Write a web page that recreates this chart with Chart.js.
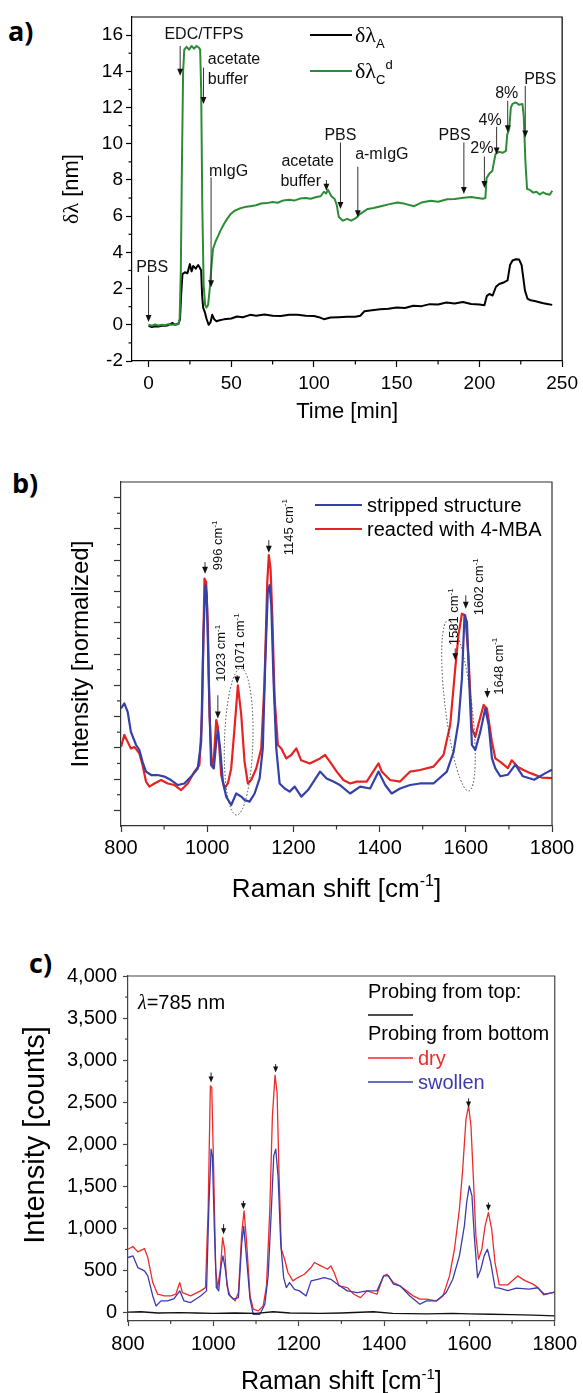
<!DOCTYPE html>
<html>
<head>
<meta charset="utf-8">
<script src="https://cdn.jsdelivr.net/npm/chart.js@4/dist/chart.umd.min.js"></script>
<style>
  body { margin: 0; background: #fff; width: 583px; height: 1393px; position: relative; overflow: hidden; }
  canvas { position: absolute; left: 0; }
  .tag { position: absolute; font: bold 27px "Open Sans", "Liberation Sans", sans-serif; color: #000; }
</style>
</head>
<body>
<div class="tag" style="left:8px;top:12px">a)</div>
<div class="tag" style="left:12px;top:464px">b)</div>
<div class="tag" style="left:29px;top:944px">c)</div>
<canvas id="chartA" width="583" height="430" style="top:0"></canvas>
<canvas id="chartB" width="583" height="476" style="top:430px"></canvas>
<canvas id="chartC" width="583" height="493" style="top:900px"></canvas>
<script>
const SANS = '"Liberation Sans", Arial, sans-serif'
const SERIF = '"Liberation Serif", "DejaVu Serif", serif'

// ---- a) wavelength shift vs time ----
const timeGreen = [0,2,4,6,8,10,12,14,16,18,18.8,19.5,20.2,20.9,21.6,23,24.5,26,27.5,29,30.5,31.2,31.8,32.5,33.3,34.2,35,36,37,38,39,40.5,42,43.5,45.5,47.5,49.5,52,55,58,61.5,65,68,71.5,75,78,81.5,85,88,91.5,95,98,101.5,104,106,107.3,108.5,110.5,112.5,113.8,115,117.5,120,122.5,125.5,127.5,130,132.5,136,140.5,145,150.5,155,160.5,165,170.5,175,180.5,185,190.5,195,199,202,203.6,204.3,206,207.8,208.8,209.8,212,214,216,216.8,218,219,220,222,224,226,226.8,227.8,228.8,230.5,232.5,234.5,236.5,238.5,240.5,242.5,244]
const dlC = [0,-0.05,0.02,-0.04,0,-0.02,0.03,0,0.02,0.03,0.3,3,9,14,15.2,15.35,15.2,15.4,15.25,15.4,15.3,15.2,13,6.5,2.2,1.1,0.95,1.1,2,3.2,4.2,4.6,4.9,5.2,5.55,5.85,6.1,6.3,6.42,6.5,6.55,6.6,6.7,6.72,6.78,6.74,6.87,6.9,6.86,6.97,7,6.96,7.06,7.1,7.35,7.25,7.45,7.1,6.95,6.6,5.95,5.75,5.85,5.75,5.9,6.1,6.25,6.4,6.45,6.55,6.65,6.75,6.68,6.55,6.75,6.85,6.8,6.93,6.95,7.02,7.06,7,6.96,7,8.1,8.35,8.5,9,9.45,9.55,9.5,9.6,10.5,10.8,12,12.2,12.28,12.15,12.2,11.5,9,7.5,7.45,7.3,7.35,7.2,7.32,7.22,7.18,7.4]
const timeBlack = [0,2,4,6,8,10,12,14.5,16,18,19,19.8,20.5,22,23.5,25,26,27,28.5,30,31,31.8,32.4,33,34,35,36.3,37.5,38.5,39.7,41,43,45.5,50,53.5,57,61.5,65,70,75,80,85,90,95,100,103,106,110,115,120,125,128,130.5,135,140,145,150,155,160,165,170,175,180,185,190,195,200,203,204.5,206,208,210,212,215,217,218.5,220,222,224,225.5,226.5,227.5,229,231,234,238,241,244]
const dlA = [-0.05,-0.12,-0.08,-0.1,-0.05,-0.06,-0.02,0.1,0,0.05,0.3,1.8,2.8,2.9,2.85,3.35,2.95,3.25,3.1,3.3,3.15,3,1.6,0.95,0.7,0.35,0,0.15,0.55,0.3,0.2,0.25,0.3,0.35,0.46,0.42,0.55,0.5,0.57,0.5,0.48,0.55,0.55,0.5,0.48,0.42,0.31,0.4,0.42,0.45,0.45,0.5,0.75,0.8,0.86,0.88,0.96,0.93,1.05,1.03,1.14,1.12,1.23,1.18,1.26,1.15,1.12,1.08,1.6,1.7,1.62,2.1,2.25,2.35,2.45,3.3,3.55,3.62,3.6,3.3,2.6,1.9,1.45,1.35,1.3,1.2,1.15,1.1]
const timeTicks = [0,50,100,150,200,250]
const shiftTicksA = [-2,0,2,4,6,8,10,12,14,16]
const stepLabels = ['PBS','EDC/TFPS','acetate','buffer','mIgG','acetate','buffer','PBS','a-mIgG','PBS','2%','4%','8%','PBS']
const stepLabelTime = [2.2,33.5,35.8,35.8,48.4,96.2,92,116,141,185,201.5,206.5,216.5,236.7]
const stepLabelY = [3.2,16.1,14.7,13.6,8.5,9.1,8.0,10.5,9.47,10.5,9.8,11.37,12.83,13.63]
const stepLabelAlign = ['c','c','l','l','c','c','c','c','c','c','c','c','c','c']
const stepArrowTime = [0,19.1,33.2,37.8,107.5,116,126.5,190.6,203,210.4,217.1,227.7]
const stepArrowFrom = [2.72,15.4,14.2,8.15,8.0,10.07,8.73,10.07,9.29,10.94,12.37,13.2]
const stepArrowTo = [0.15,13.75,12.2,2.07,7.4,6.4,5.94,7.23,7.56,9.4,10.63,10.35]

// ---- b) normalized Raman spectra ----
const shiftRedB = [800,807.7,815.5,823,831,842.6,850,858,866,877.5,893,908.5,924,939.5,955,970.5,982,988,993.7,997.6,1001.5,1005.3,1010.8,1015.4,1021,1024.7,1032.5,1040.2,1048,1055.7,1063.4,1071.2,1079,1086.7,1094.4,1102,1113.8,1125.4,1133,1139.4,1143,1147,1151,1156.4,1164,1172,1183.5,1195,1206.8,1218,1238,1261.8,1273.4,1285,1300.5,1316,1331.6,1347,1370,1397.5,1405,1424.3,1447.5,1470.8,1494,1525,1548.3,1563.8,1575.5,1583,1591,1598.6,1606.4,1614.2,1622,1629.7,1641.4,1649,1660.7,1668.5,1680,1697.8,1706.5,1720,1732.5,1750,1776,1800]
const redB = [2.03,2.41,2.19,1.98,2.03,1.82,1.45,0.92,0.76,0.86,0.97,0.86,0.81,0.65,0.86,1.24,1.45,3.05,7.41,7.3,5.92,3.05,1.45,1.66,2.89,2.67,1.13,0.7,0.86,1.34,2.62,4.0,3.05,1.55,0.86,0.97,1.34,1.98,4.1,7.3,8.16,7.73,6.24,3.58,2.09,1.98,1.66,1.77,1.98,1.6,1.5,1.66,1.77,1.55,1.24,0.97,0.86,0.92,0.92,1.5,1.24,0.97,0.92,1.24,1.29,1.4,1.77,2.73,4.54,5.6,6.29,6.24,4.86,2.62,2.35,2.78,3.37,3.26,2.19,1.66,1.55,1.35,1.6,1.4,1.3,1.19,1.05,1.03]
const shiftBlueB = [800,807.7,815.5,823,835,842.6,850,858,870,885,900.7,916,932,947,962.7,978,986,991.4,996,999,1003.8,1009,1015.4,1021,1024.7,1030,1036.3,1044,1055.7,1067.3,1079,1086.7,1098.3,1110,1121.6,1129,1134.5,1140.6,1144.6,1148.7,1154,1160.3,1168,1179.7,1191.3,1203,1218.4,1234,1261.8,1277,1292.6,1308,1331.6,1355,1378,1397.5,1413,1428,1447.5,1470.8,1494,1525,1556,1571.7,1583,1591,1597,1602.6,1608,1614.2,1622,1633.6,1645.2,1653,1660.7,1668.5,1680,1697.8,1715,1732.5,1758.7,1784.7,1800]
const blueB = [3.26,3.42,3.15,2.51,2.09,1.93,1.55,1.24,1.13,1.13,1.08,0.97,0.81,0.86,1.08,1.34,2.19,5.71,7.2,6.88,4.11,1.45,1.34,2.19,2.57,1.98,0.92,0.44,0.17,0.54,0.44,0.33,0.28,0.54,1.02,1.98,4.64,6.99,7.2,6.56,4.11,1.98,0.86,0.7,0.6,0.76,0.44,0.65,1.24,1.02,0.92,0.81,0.54,0.76,0.7,1.24,0.81,0.54,0.7,0.81,0.86,0.86,1.24,1.87,2.83,4.22,6.24,6.03,4.11,2.09,1.93,2.51,3.26,2.73,1.66,1.34,1.09,1.14,1.46,1.09,0.98,1.19,1.3]
const ramanTicks = [800,1000,1200,1400,1600,1800]
const normTicks = [0,1,2,3,4,5,6,7,8,9,10]
const peakLabels = ['996','1145','1023','1071','1581','1602','1648']
const peakLabelShift = [1024.7,1187.4,1031,1075,1571.7,1629.7,1675.5]
const peakLabelBase = [7.68,8.16,4.11,4.48,5.28,6.24,3.7]
const peakArrowShift = [995,1143,1024.7,1069.6,1575.5,1600,1650]
const peakArrowFrom = [7.94,8.64,3.68,4.32,5.18,6.88,3.91]
const peakArrowTo = [7.57,8.24,2.94,4.06,4.8,6.45,3.59]

// ---- c) Raman counts ----
const shiftRedC = [800,811.6,823,838.6,846.4,858,869.5,885,900.4,912,921.3,927.5,946.8,970,981.6,987.8,993,996.3,1001,1005.5,1010,1016.4,1021.8,1026.4,1031.8,1039.5,1051,1058.8,1066.6,1072,1078,1086,1093.6,1105.2,1116.8,1124.5,1132.3,1138.4,1144.6,1149.3,1154,1159.3,1167,1174.8,1186.3,1198,1213.4,1229,1236.6,1252,1267.5,1275.3,1283,1294.6,1314,1329.4,1344.8,1360.2,1383.4,1398.9,1406.6,1422,1437.5,1453,1468.4,1483.9,1499.3,1522.5,1538,1553.4,1565,1576.6,1584.3,1592,1598.2,1603.6,1609.8,1615.2,1621.4,1629.1,1636.8,1644.5,1652.3,1660,1670,1690,1713,1730,1748,1760,1774,1790,1800]
const redC = [753,785,721,761,654,357,218,198,198,218,357,238,198,258,297,1229,2695,2675,1625,515,297,515,892,753,317,198,139,238,951,1209,832,198,40,20,79,317,1229,2338,2822,2616,1625,753,634,476,377,416,456,535,595,555,515,555,476,317,297,218,178,258,218,436,456,357,317,258,198,159,159,139,198,436,753,1229,1704,2299,2457,2220,1546,912,634,753,1031,1189,991,595,330,330,436,380,341,300,210,230,250]
const shiftBlueC = [800,811.6,823,838.6,846.4,858,865.7,877.3,892.7,908,921.3,931.4,946.8,970,984,989.3,994.7,997.8,1002.4,1007,1012.5,1018,1022.5,1028,1035.7,1047.3,1058.8,1066.6,1071.2,1076.6,1086,1093.6,1109,1120.7,1128.4,1136,1141.5,1146.2,1151.6,1157.8,1164.7,1171,1178.6,1190.2,1201.8,1217.3,1229,1244.4,1260,1275.3,1290.8,1314,1337.2,1360.2,1383.4,1398.9,1410.4,1422,1437.5,1460.6,1483.9,1499.3,1522.5,1545.7,1561,1576.6,1588.2,1593.6,1599.8,1606,1611.4,1619.1,1626.8,1634.5,1642.2,1650,1660,1670,1690,1710,1740,1760,1775,1800]
const blueC = [654,674,535,495,436,198,79,139,139,166,258,139,119,198,258,1229,1942,1863,991,297,258,555,674,515,218,159,178,832,1023,713,159,-20,-20,99,436,1229,1863,1942,1625,832,416,297,357,277,258,198,377,396,416,396,337,258,238,258,258,436,436,337,317,198,99,139,139,238,396,674,1031,1308,1506,1387,912,416,515,674,753,595,297,290,260,290,280,295,220,240]
const shiftTopC = [800,830,870,920,960,1000,1050,1100,1140,1180,1250,1300,1375,1420,1500,1560,1600,1650,1700,1750,1800]
const topC = [5,10,-5,0,-5,-10,-5,-10,10,-5,-10,-5,10,-10,-15,-10,-15,-20,-25,-30,-40]
const countTicks = [0,500,1000,1500,2000,2500,3000,3500,4000]
const markShift = [994.7,1024,1070.4,1146,1598,1644.5]
const markFrom = [2853,1050,1328,2953,2545,1308]
const markTo = [2735,931,1229,2853,2437,1209]

// ---------- drawing helpers ----------
function rich(ctx, parts, x, y, size, align) {
  const fonts = parts.map(p => (p.sty || '') + ' ' + Math.round(size * (p.k || 1)) + 'px ' + (p.fam || SANS))
  const ws = parts.map((p, i) => { ctx.font = fonts[i]; return ctx.measureText(p.t).width })
  const total = ws.reduce((a, b) => a + b, 0)
  let cx = align === 'center' ? x - total / 2 : align === 'right' ? x - total : x
  ctx.textAlign = 'left'
  ctx.textBaseline = 'alphabetic'
  parts.forEach((p, i) => {
    ctx.font = fonts[i]
    ctx.fillText(p.t, cx, y + size * (p.dy || 0))
    cx += ws[i]
  })
}
const sup = t => ({ t, k: 0.6, dy: -0.42 })
const sub = t => ({ t, k: 0.6, dy: 0.28 })

function vertical(ctx, parts, x, y, size, align) {
  ctx.save()
  ctx.translate(x, y)
  ctx.rotate(-Math.PI / 2)
  rich(ctx, parts, 0, size * 0.35, size, align)
  ctx.restore()
}

function arrow(ctx, x, y1, y2, head) {
  ctx.beginPath()
  ctx.moveTo(x, y1)
  ctx.lineTo(x, y2 - head * 0.6)
  ctx.stroke()
  ctx.beginPath()
  ctx.moveTo(x - head * 0.42, y2 - head)
  ctx.lineTo(x + head * 0.42, y2 - head)
  ctx.lineTo(x, y2)
  ctx.closePath()
  ctx.fill()
}

function frame(chart, ctx, color, width) {
  const a = chart.chartArea
  ctx.strokeStyle = color
  ctx.lineWidth = width
  ctx.beginPath()
  ctx.moveTo(a.left, a.top)
  ctx.lineTo(a.right, a.top)
  ctx.lineTo(a.right, a.bottom)
  ctx.stroke()
}

function minor(ctx, scale, values, len) {
  values.forEach(v => {
    const p = scale.getPixelForValue(v)
    ctx.beginPath()
    if (scale.isHorizontal()) { ctx.moveTo(p, scale.top); ctx.lineTo(p, scale.top + len) }
    else { ctx.moveTo(scale.right, p); ctx.lineTo(scale.right - len, p) }
    ctx.stroke()
  })
}

function range(a, b, step) { const out = []; for (let v = a; v <= b + 1e-9; v += step) out.push(v); return out }
function pts(xs, ys) { return xs.map((x, i) => ({ x, y: ys[i] })) }

function axis(min, max, values, color, fontSize, pad, tick, format) {
  return {
    type: 'linear', min, max,
    afterBuildTicks: s => { s.ticks = values.map(value => ({ value })) },
    border: { display: true, color, width: 1.2 },
    grid: { drawOnChartArea: false, drawTicks: true, tickLength: tick, color, tickWidth: 1.2 },
    ticks: {
      color: '#000', padding: pad, maxRotation: 0, autoSkip: false,
      font: { size: fontSize, family: SANS },
      callback: format
    }
  }
}
const plain = v => String(v)
const commas = v => v.toLocaleString('en-US')
const blank = () => ''

function makeChart(id, area, height, datasets, xAxis, yAxis, draw) {
  xAxis.afterFit = s => { s.height = height - area.b }
  yAxis.afterFit = s => { s.width = area.l }
  return new Chart(document.getElementById(id), {
    type: 'line',
    data: { datasets },
    options: {
      responsive: false,
      animation: false,
      parsing: false,
      layout: { padding: { top: area.t, right: 583 - area.r, left: 0, bottom: 0 } },
      plugins: { legend: { display: false }, tooltip: { enabled: false } },
      elements: { point: { radius: 0 }, line: { tension: 0, borderJoinStyle: 'round' } },
      scales: { x: xAxis, y: yAxis }
    },
    plugins: [{ id: 'extras', afterDraw(chart) {
      const ctx = chart.ctx
      ctx.save()
      draw(chart, ctx, chart.scales.x, chart.scales.y)
      ctx.restore()
    } }]
  })
}

// ---------- a) ----------
makeChart('chartA', { l: 132, r: 565, t: 17, b: 361 }, 430, [
  { data: pts(timeGreen, dlC), borderColor: '#2b8c35', borderWidth: 2 },
  { data: pts(timeBlack, dlA), borderColor: '#000', borderWidth: 2 }
], axis(-10, 250, timeTicks, '#000', 19, 5, 6, plain), axis(-2, 17, shiftTicksA, '#000', 19, 3, 6, plain), (chart, ctx, x, y) => {
  frame(chart, ctx, '#000', 1.2)
  ctx.strokeStyle = '#000'
  ctx.lineWidth = 1.2
  minor(ctx, x, range(25, 225, 50), 3.5)
  minor(ctx, y, range(-1, 15, 2), 3.5)
  ctx.fillStyle = '#111'
  stepLabels.forEach((t, i) => {
    rich(ctx, [{ t }], x.getPixelForValue(stepLabelTime[i]), y.getPixelForValue(stepLabelY[i]) + 5.6, 16, stepLabelAlign[i] === 'l' ? 'left' : 'center')
  })
  ctx.strokeStyle = '#333'
  ctx.fillStyle = '#111'
  ctx.lineWidth = 1
  stepArrowTime.forEach((t, i) => {
    arrow(ctx, x.getPixelForValue(t), y.getPixelForValue(stepArrowFrom[i]), y.getPixelForValue(stepArrowTo[i]), 7)
  })
  // legend
  const a = chart.chartArea
  ctx.lineWidth = 2
  ctx.strokeStyle = '#000'
  ctx.beginPath(); ctx.moveTo(310, 35); ctx.lineTo(352, 35); ctx.stroke()
  ctx.strokeStyle = '#2b8c35'
  ctx.beginPath(); ctx.moveTo(310, 71); ctx.lineTo(352, 71); ctx.stroke()
  ctx.fillStyle = '#000'
  rich(ctx, [{ t: 'δλ', fam: SERIF }, sub('A')], 355, 42, 22, 'left')
  rich(ctx, [{ t: 'δλ', fam: SERIF }, sub('C'), sup('d')], 355, 78, 22, 'left')
  // axis titles
  rich(ctx, [{ t: 'Time [min]' }], (a.left + a.right) / 2, 418, 22, 'center')
  vertical(ctx, [{ t: 'δλ', fam: SERIF }, { t: ' [nm]' }], 70, (a.top + a.bottom) / 2, 22, 'center')
})

// ---------- b) ----------
makeChart('chartB', { l: 121, r: 552, t: 52, b: 396 }, 476, [
  { data: pts(shiftBlueB, blueB), borderColor: '#3341a8', borderWidth: 2.2 },
  { data: pts(shiftRedB, redB), borderColor: '#e62222', borderWidth: 2.2 }
], axis(800, 1800, ramanTicks, '#333', 20, 4, 6, plain), axis(-0.5, 10.5, normTicks, '#333', 20, 3, 7, blank), (chart, ctx, x, y) => {
  frame(chart, ctx, '#333', 1.2)
  ctx.strokeStyle = '#333'
  ctx.lineWidth = 1.2
  minor(ctx, x, range(900, 1700, 200), 3.5)
  minor(ctx, y, range(0.5, 9.5, 1), 4)
  // dotted ellipses
  ctx.strokeStyle = '#444'
  ctx.lineWidth = 1
  ctx.setLineDash([1.5, 2])
  const ell = (cx, cy, rx, ry, rot) => {
    const px = x.getPixelForValue(cx), py = y.getPixelForValue(cy)
    ctx.beginPath()
    ctx.ellipse(px, py, Math.abs(x.getPixelForValue(cx + rx) - px), Math.abs(y.getPixelForValue(cy + ry) - py), rot, 0, Math.PI * 2)
    ctx.stroke()
  }
  ell(1073, 2.2, 33, 2.35, 0.03)
  ell(1583, 3.35, 31, 2.75, -0.12)
  ctx.setLineDash([])
  ctx.strokeStyle = '#333'
  ctx.fillStyle = '#111'
  peakArrowShift.forEach((s, i) => {
    arrow(ctx, x.getPixelForValue(s), y.getPixelForValue(peakArrowFrom[i]), y.getPixelForValue(peakArrowTo[i]), 7)
  })
  peakLabels.forEach((t, i) => {
    vertical(ctx, [{ t: t + ' cm' }, sup('-1')], x.getPixelForValue(peakLabelShift[i]), y.getPixelForValue(peakLabelBase[i]), 13, 'left')
  })
  // legend
  ctx.lineWidth = 2.2
  ctx.strokeStyle = '#3341a8'
  ctx.beginPath(); ctx.moveTo(315, 75); ctx.lineTo(362, 75); ctx.stroke()
  ctx.strokeStyle = '#e62222'
  ctx.beginPath(); ctx.moveTo(315, 99); ctx.lineTo(362, 99); ctx.stroke()
  ctx.fillStyle = '#000'
  rich(ctx, [{ t: 'stripped structure' }], 367, 82, 20, 'left')
  rich(ctx, [{ t: 'reacted with 4-MBA' }], 367, 106, 20, 'left')
  const a = chart.chartArea
  rich(ctx, [{ t: 'Raman shift [cm' }, sup('-1'), { t: ']' }], (a.left + a.right) / 2, 467, 26, 'center')
  vertical(ctx, [{ t: 'Intensity [normalized]' }], 80, (a.top + a.bottom) / 2, 24, 'center')
})

// ---------- c) ----------
makeChart('chartC', { l: 128, r: 560, t: 76, b: 421 }, 493, [
  { data: pts(shiftTopC, topC), borderColor: '#111', borderWidth: 1.3 },
  { data: pts(shiftBlueC, blueC), borderColor: '#3b3bb0', borderWidth: 1.3 },
  { data: pts(shiftRedC, redC), borderColor: '#ee2b2b', borderWidth: 1.3 }
], axis(800, 1800, ramanTicks, '#444', 20, 6, 5, plain), axis(-100, 4000, countTicks, '#444', 20, 6, 5, commas), (chart, ctx, x, y) => {
  frame(chart, ctx, '#444', 1.2)
  ctx.strokeStyle = '#444'
  ctx.lineWidth = 1.2
  minor(ctx, x, range(900, 1700, 200), 3)
  minor(ctx, y, range(250, 3750, 500), 3)
  ctx.strokeStyle = '#222'
  ctx.fillStyle = '#111'
  ctx.lineWidth = 1
  markShift.forEach((s, i) => {
    arrow(ctx, x.getPixelForValue(s), y.getPixelForValue(markFrom[i]), y.getPixelForValue(markTo[i]), 6)
  })
  ctx.fillStyle = '#000'
  rich(ctx, [{ t: 'λ', fam: SERIF, sty: 'italic' }, { t: '=785 nm' }], 138, 109, 20, 'left')
  rich(ctx, [{ t: 'Probing from top:' }], 368, 98, 20, 'left')
  rich(ctx, [{ t: 'Probing from bottom' }], 368, 140, 20, 'left')
  ctx.lineWidth = 1.3
  ctx.strokeStyle = '#111'
  ctx.beginPath(); ctx.moveTo(368, 115); ctx.lineTo(413, 115); ctx.stroke()
  ctx.strokeStyle = '#ee2b2b'
  ctx.beginPath(); ctx.moveTo(368, 158); ctx.lineTo(413, 158); ctx.stroke()
  ctx.strokeStyle = '#3b3bb0'
  ctx.beginPath(); ctx.moveTo(368, 182); ctx.lineTo(413, 182); ctx.stroke()
  ctx.fillStyle = '#ee2b2b'
  rich(ctx, [{ t: 'dry' }], 418, 165, 20, 'left')
  ctx.fillStyle = '#3b3bb0'
  rich(ctx, [{ t: 'swollen' }], 418, 189, 20, 'left')
  ctx.fillStyle = '#000'
  const a = chart.chartArea
  rich(ctx, [{ t: 'Raman shift [cm' }, sup('-1'), { t: ']' }], (a.left + a.right) / 2, 489, 25, 'center')
  vertical(ctx, [{ t: 'Intensity [counts]' }], 34, 235, 29, 'center')
})
</script>
</body>
</html>
